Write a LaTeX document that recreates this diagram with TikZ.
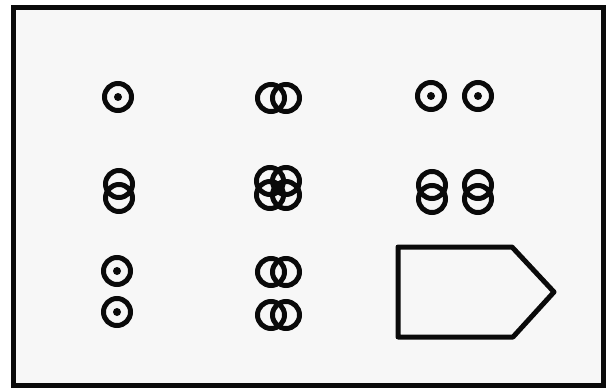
\documentclass[tikz,border=0pt]{standalone}
\usepackage{xcolor}
\usepackage{tikz}
\usetikzlibrary{positioning}
\definecolor{figInk}{HTML}{0A0A0A}
\definecolor{figPaper}{HTML}{F7F7F7}

\begin{document}
\begin{tikzpicture}[
  x=1pt, y=-1pt,
  ring/.style={
    circle, draw=figInk, line width=5pt,
    minimum size=27pt, inner sep=0pt
  },
  dot/.style={
    circle, fill=figInk, minimum size=8pt, inner sep=0pt
  },
  frame/.style={draw=figInk, line width=5.5pt, fill=figPaper},
  plate/.style={draw=figInk, line width=5pt, line join=round},
]
\useasboundingbox (0,0) rectangle (610,390);

% === Frame ===
\draw[frame] (13.5,7.5) rectangle (603.5,385.5);

% === Top row ===
\node[ring] (a1) at (118,97) {};
\node[dot] (a1d) at (a1) {};

\node[ring] (b1l) at (271,98) {};
\node[ring] (b1r) at (286,98) {};

\node[ring] (c1l) at (431,96) {};
\node[dot] (c1ld) at (c1l) {};
\node[ring] (c1r) at (478,96) {};
\node[dot] (c1rd) at (c1r) {};

% === Middle row ===
\node[ring] (a2t) at (119,184) {};
\node[ring] (a2b) at (119,198) {};

\node[ring] (b2tl) at (270,181) {};
\node[ring] (b2tr) at (286,181) {};
\node[ring] (b2bl) at (270,195) {};
\node[ring] (b2br) at (286,195) {};

\node[ring] (c2lt) at (432,185) {};
\node[ring] (c2lb) at (432,199) {};
\node[ring] (c2rt) at (478,185) {};
\node[ring] (c2rb) at (478,199) {};

% === Bottom row ===
\node[ring] (a3t) at (117,271) {};
\node[dot] (a3td) at (a3t) {};
\node[ring] (a3b) at (117,312) {};
\node[dot] (a3bd) at (a3b) {};

\node[ring] (b3tl) at (271,272) {};
\node[ring] (b3tr) at (286,272) {};
\node[ring] (b3bl) at (271,315) {};
\node[ring] (b3br) at (286,315) {};

% === Plate ===
\draw[plate] (398,247) -- (512,247) -- (554,292) -- (513,337)
  -- (398,337) -- cycle;

\end{tikzpicture}
\end{document}
